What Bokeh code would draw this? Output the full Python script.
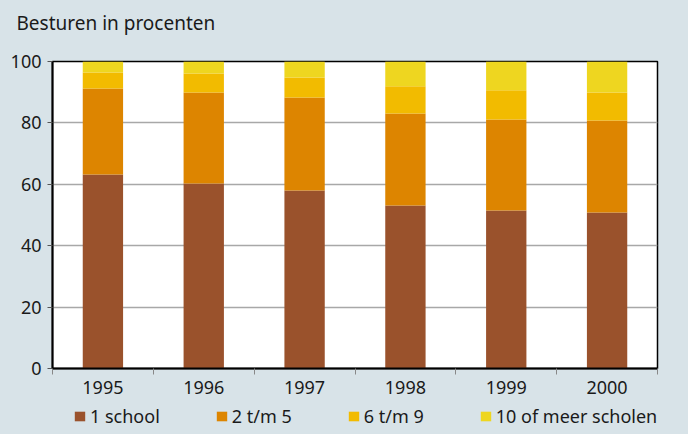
from bokeh.plotting import figure
from bokeh.models import Range1d, FixedTicker, Legend, ColumnDataSource, Label
from bokeh.layouts import column
from bokeh.embed import file_html
from bokeh.resources import INLINE

years = ["1995", "1996", "1997", "1998", "1999", "2000"]
school1 = [63.2, 60.3, 58.0, 53.1, 51.5, 50.8]
t2_5 = [28.0, 29.6, 30.3, 30.0, 29.6, 30.0]
t6_9 = [5.2, 6.2, 6.5, 8.8, 9.5, 9.1]
t10plus = [3.6, 3.9, 5.2, 8.1, 9.4, 10.1]
series_names = ["1 school", "2 t/m 5", "6 t/m 9", "10 of meer scholen"]
y_ticks = [0, 20, 40, 60, 80, 100]
title_text = "Besturen in procenten"

colors = ["#9a522c", "#dd8500", "#f2bb00", "#eed620"]
BG = "#d8e3e8"
FONT = "Noto Sans"
TXT = "#1a1a1a"
W = 688


def strip(height):
    f = figure(width=W, height=height, output_backend="svg", toolbar_location=None,
               x_range=Range1d(0, W), y_range=Range1d(0, height),
               x_axis_location=None, y_axis_location=None)
    f.min_border_left = f.min_border_right = 0
    f.min_border_top = f.min_border_bottom = 0
    f.frame_align = False
    f.background_fill_color = BG
    f.border_fill_color = BG
    f.outline_line_color = None
    f.grid.grid_line_color = None
    return f


xpos = [i + 0.5 for i in range(len(years))]
src = ColumnDataSource(dict(x=xpos, s1=school1, s2=t2_5, s3=t6_9, s4=t10plus))

# header with title
head = strip(50)
head.add_layout(Label(x=16, y=28, text=title_text, text_font=FONT, text_font_size="19px",
                      text_color=TXT, text_baseline="middle", text_align="left"))

main = figure(width=W, height=350, output_backend="svg", toolbar_location=None,
              x_range=Range1d(0, len(years)), y_range=Range1d(0, 100))
main.frame_align = False
main.min_border_left = 52
main.min_border_right = 31
main.min_border_top = 11
main.min_border_bottom = 32
main.background_fill_color = "white"
main.border_fill_color = BG
main.outline_line_color = "black"
main.outline_line_width = 1.5

renderers = main.vbar_stack(["s1", "s2", "s3", "s4"], x="x", width=0.4, source=src,
                            color=colors, line_color=None)

# y axis
ya = main.yaxis[0]
ya.ticker = FixedTicker(ticks=y_ticks)
ya.axis_line_color = "black"
ya.axis_line_width = 2
ya.major_tick_line_color = "#555555"
ya.major_tick_out = 5
ya.major_tick_in = 0
ya.minor_tick_line_color = None
ya.major_label_standoff = 6
ya.major_label_text_font = FONT
ya.major_label_text_font_size = "18px"
ya.major_label_text_color = TXT

# x axis
xa = main.xaxis[0]
xa.ticker = FixedTicker(ticks=xpos, minor_ticks=list(range(len(years) + 1)))
xa.major_label_overrides = {x: y for x, y in zip(xpos, years)}
xa.axis_line_color = "black"
xa.axis_line_width = 2
xa.major_tick_line_color = None
xa.major_tick_out = 6
xa.minor_tick_line_color = "#888888"
xa.minor_tick_out = 6
xa.minor_tick_in = 0
xa.major_label_standoff = 6
xa.major_label_text_font = FONT
xa.major_label_text_font_size = "18px"
xa.major_label_text_color = TXT

main.xgrid.grid_line_color = None
main.ygrid.ticker = FixedTicker(ticks=y_ticks)
main.ygrid.grid_line_color = "#a8a8a8"
main.ygrid.grid_line_width = 1.6

# legend strip
leg = strip(34)
dummies = leg.vbar_stack(["s1", "s2", "s3", "s4"], x="x", width=0.4, source=src,
                         color=colors, line_color=None)
for r in dummies:
    r.visible = False

legend = Legend(items=[(n, [r]) for n, r in zip(series_names, dummies)],
                orientation="horizontal", location=(73, 6))
legend.background_fill_alpha = 0
legend.border_line_color = None
legend.inactive_fill_alpha = 0
legend.glyph_width = 13
legend.glyph_height = 12
legend.label_standoff = 4
legend.spacing = 55
legend.padding = 0
legend.margin = 0
legend.label_text_font = FONT
legend.label_text_font_size = "18px"
legend.label_text_color = TXT
leg.add_layout(legend, "center")

p = column(head, main, leg, spacing=0, styles={"background-color": BG})

open("out.html", "w").write(file_html(p, INLINE))
